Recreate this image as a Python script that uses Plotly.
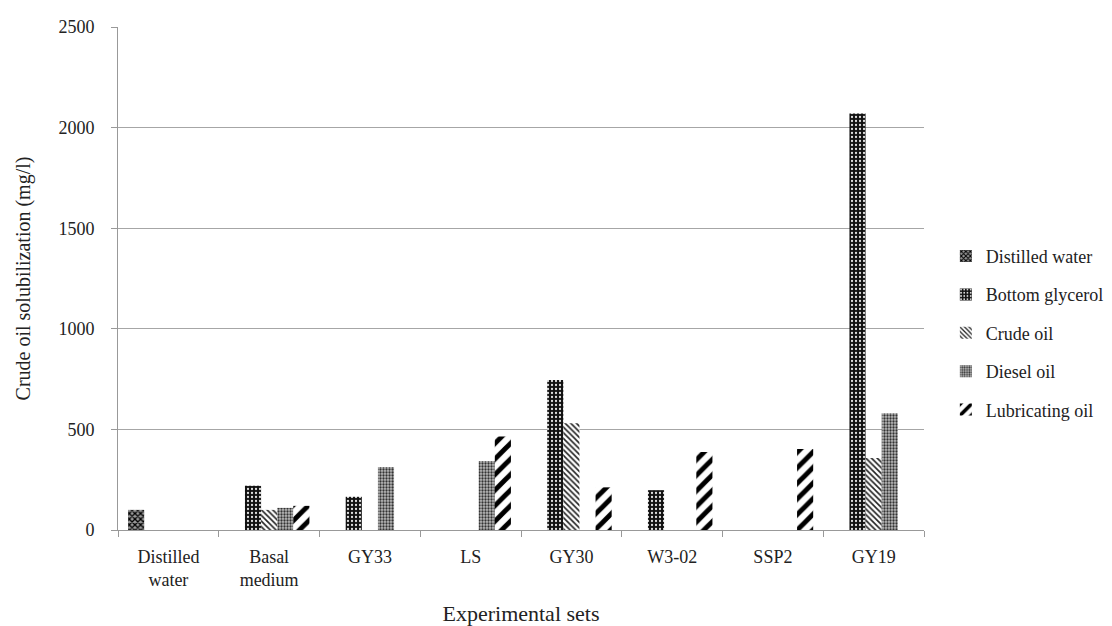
import plotly.graph_objects as go

categories = ["Distilled<br>water", "Basal<br>medium", "GY33", "LS", "GY30", "W3-02", "SSP2", "GY19"]
distilled_water = [100, None, None, None, None, None, None, None]
bottom_glycerol = [None, 220, 165, None, 745, 198, None, 2070]
crude_oil = [None, 100, None, None, 530, None, None, 358]
diesel_oil = [None, 110, 313, 343, None, None, None, 580]
lubricating_oil = [None, 120, None, 465, 212, 388, 403, None]

series = [
    ("Distilled water", distilled_water, dict(shape="x", fgcolor="#000", bgcolor="#999", size=4, solidity=0.55, fgopacity=1)),
    ("Bottom glycerol", bottom_glycerol, dict(shape=".", fgcolor="#e0e0e0", bgcolor="#111", size=4, solidity=0.25, fgopacity=1)),
    ("Crude oil", crude_oil, dict(shape="\\", fgcolor="#222", bgcolor="white", size=4, solidity=0.4, fgopacity=1)),
    ("Diesel oil", diesel_oil, dict(shape=".", fgcolor="#333", bgcolor="#bbb", size=3, solidity=0.45, fgopacity=1)),
    ("Lubricating oil", lubricating_oil, dict(shape="/", fgcolor="#000", bgcolor="white", size=11, solidity=0.45, fgopacity=1)),
]

fig = go.Figure()
for i, (name, vals, pat) in enumerate(series):
    fig.add_trace(go.Bar(
        name=name, x=categories, y=vals,
        marker=dict(color="white", pattern=pat, line=dict(width=0)),
        legendgroup=f"g{i}",
    ))

font = "Liberation Serif, Times New Roman, serif"
fig.update_layout(
    width=1104, height=618,
    barmode="group", bargap=0.2, bargroupgap=0,
    plot_bgcolor="white", paper_bgcolor="white",
    margin=dict(l=110, r=188, t=19, b=96),
    font=dict(family=font, size=18, color="#222"),
    legend=dict(xref="container", x=0.8495, xanchor="left", y=0.392, yanchor="middle",
                font=dict(family=font, size=18, color="#222"),
                tracegroupgap=12, traceorder="grouped"),
    xaxis=dict(
        type="category", showline=True, linecolor="#999", linewidth=1,
        ticks="outside", tickson="boundaries", ticklen=6, tickcolor="#999",
        ticklabelstandoff=10,
        tickfont=dict(family=font, size=18, color="#222"),
        title=dict(text="Experimental sets", font=dict(family=font, size=22, color="#222"), standoff=22),
        automargin=False,
    ),
    yaxis=dict(
        range=[0, 2500], dtick=500, showgrid=True, gridcolor="#a6a6a6", gridwidth=1,
        showline=True, linecolor="#999", linewidth=1,
        ticks="outside", ticklen=6, tickcolor="#999",
        ticklabelstandoff=13,
        tickfont=dict(family=font, size=18, color="#222"),
        title=dict(text="Crude oil solubilization (mg/l)", font=dict(family=font, size=20, color="#222"), standoff=22),
        zeroline=False, automargin=False,
    ),
)

fig.write_html("out.html")
